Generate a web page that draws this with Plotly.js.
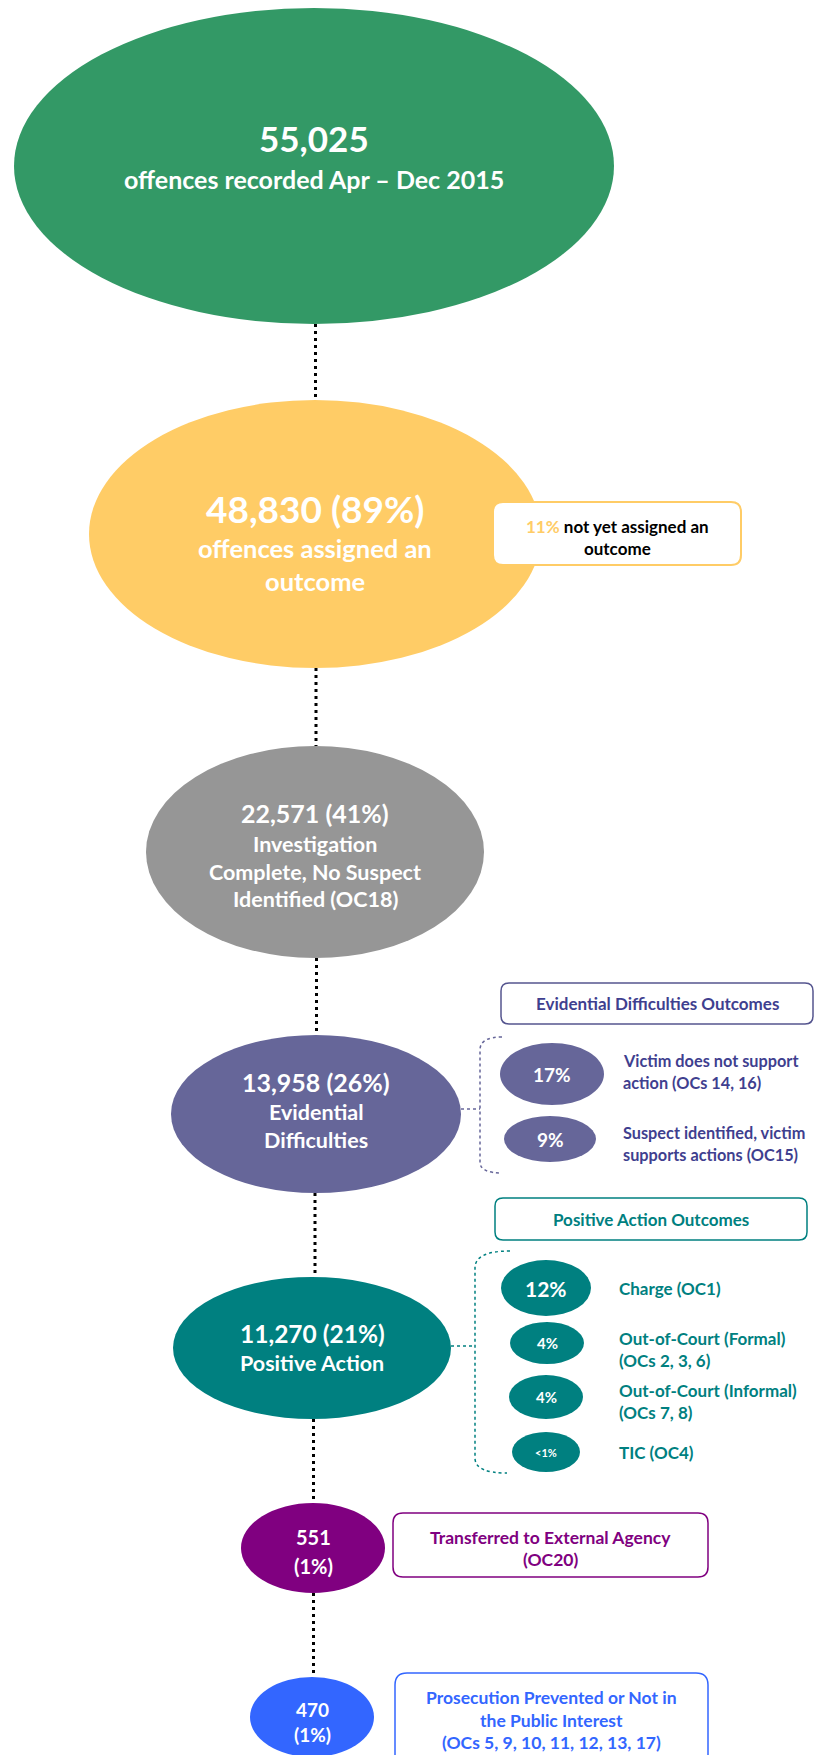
<!DOCTYPE html>
<html>
<head>
<meta charset="utf-8">
<script src="https://cdn.plot.ly/plotly-3.0.1.min.js"></script>
<style>
  html, body { margin: 0; padding: 0; background: #ffffff; }
  #chart { width: 814px; height: 1755px; }
</style>
</head>
<body>
<div id="chart"></div>
<script>
// ---------------- DATA ----------------
const counts = [55025, 48830, 22571, 13958, 11270, 551, 470];
const shares = [null, 89, 41, 26, 21, 1, 1];
const nodeLabels = [
  ['offences recorded Apr – Dec 2015'],
  ['offences assigned an', 'outcome'],
  ['Investigation', 'Complete, No Suspect', 'Identified (OC18)'],
  ['Evidential', 'Difficulties'],
  ['Positive Action'],
  [],
  []
];
const unassignedShare = '11%';
const unassignedText = ['not yet assigned an', 'outcome'];

const edTitle = 'Evidential Difficulties Outcomes';
const edShares = ['17%', '9%'];
const edLabels = [
  ['Victim does not support', 'action (OCs 14, 16)'],
  ['Suspect identified, victim', 'supports actions (OC15)']
];

const paTitle = 'Positive Action Outcomes';
const paShares = ['12%', '4%', '4%', '<1%'];
const paLabels = [
  ['Charge (OC1)'],
  ['Out-of-Court (Formal)', '(OCs 2, 3, 6)'],
  ['Out-of-Court (Informal)', '(OCs 7, 8)'],
  ['TIC (OC4)']
];

const transferredText = ['Transferred to External Agency', '(OC20)'];
const preventedText = ['Prosecution Prevented or Not in', 'the Public Interest', '(OCs 5, 9, 10, 11, 12, 13, 17)'];

// ---------------- LAYOUT / STYLE ----------------
const W = 814, H = 1755;
const FONT = 'Lato, "Open Sans", sans-serif';
const nodeColors = ['#339966', '#FFCC66', '#969696', '#666699', '#008080', '#800080', '#3366FF'];
const nodeCx = [314, 315, 315, 316, 312, 313, 312];
const nodeCy = [166, 534, 852, 1114, 1348, 1548, 1717];
const nodeRx = [300, 226, 169, 145, 139, 72, 62];
const nodeRy = [158, 134, 106, 79, 71, 45, 40];
const splitShare = [false, false, false, false, false, true, true];
const nodeTextY = [
  [138, 179],
  [508, 548, 581],
  [813, 844, 872, 899],
  [1082, 1112, 1140],
  [1333, 1363],
  [1537, 1566],
  [1709, 1734]
];
const nodeTextSize = [
  [35, 25],
  [37, 25.5, 25.5],
  [25, 21.5, 21.5, 21.5],
  [25, 21.5, 21.5],
  [24.5, 21.5],
  [20, 20],
  [19, 19]
];

const edColor = '#666699', edText = '#3F3F8F';
const edCx = [552, 550], edCy = [1074, 1139], edRx = [52, 46], edRy = [31, 23];
const edShareSize = [19, 19];
const edLabelX = 621;
const edLabelY = [[1060, 1082], [1132, 1154]];
const edBox = [501, 983, 813, 1024];

const paColor = '#008080';
const paCx = [546, 547, 546, 546], paCy = [1288, 1343, 1397, 1452], paRx = [45, 37, 37, 34], paRy = [28, 21, 22, 20];
const paShareSize = [21, 15, 15, 11];
const paLabelX = 617;
const paLabelY = [[1288], [1338, 1360], [1390, 1412], [1452]];
const paBox = [495, 1198, 807, 1240];

const calloutBox = [493, 502, 741, 565];
const calloutY = [526, 548];
const transferredBox = [393, 1513, 708, 1577];
const transferredY = [1537, 1559];
const preventedBox = [395, 1673, 708, 1775];
const preventedY = [1697, 1720, 1742];

const edLabelSize = 16.3, paLabelSize = 17, titleSize = 17, calloutSize = 17, boxTextSize = 17.5;

// ---------------- HELPERS ----------------
const fmt = n => n.toLocaleString('en-US');
function roundRect(b, r) {
  const [x0, y0, x1, y1] = b;
  return `M ${x0 + r} ${y0} L ${x1 - r} ${y0} Q ${x1} ${y0} ${x1} ${y0 + r} L ${x1} ${y1 - r} Q ${x1} ${y1} ${x1 - r} ${y1} ` +
         `L ${x0 + r} ${y1} Q ${x0} ${y1} ${x0} ${y1 - r} L ${x0} ${y0 + r} Q ${x0} ${y0} ${x0 + r} ${y0} Z`;
}
function ellipse(cx, cy, rx, ry, color) {
  return { type: 'circle', xref: 'x', yref: 'y', x0: cx - rx, x1: cx + rx, y0: cy - ry, y1: cy + ry,
           fillcolor: color, line: { width: 0 }, layer: 'above' };
}
function text(t, x, y, size, color, anchor) {
  return { text: t, x: x, y: y, xref: 'x', yref: 'y', showarrow: false,
           xanchor: anchor || 'center', yanchor: 'middle',
           font: { family: FONT, size: size, color: color, weight: 700 } };
}

const shapes = [];
const annotations = [];

// connectors between main nodes
for (let i = 0; i < counts.length - 1; i++) {
  const x = (nodeCx[i] + nodeCx[i + 1]) / 2 + 1;
  shapes.push({ type: 'line', xref: 'x', yref: 'y', x0: x, x1: x,
                y0: nodeCy[i] + nodeRy[i], y1: nodeCy[i + 1] - nodeRy[i + 1],
                line: { color: '#000000', width: 3, dash: '3px,4px' }, layer: 'above' });
}

// main nodes
counts.forEach((c, i) => {
  shapes.push(ellipse(nodeCx[i], nodeCy[i], nodeRx[i], nodeRy[i], nodeColors[i]));
  let head;
  if (shares[i] === null) head = [fmt(c)];
  else if (splitShare[i]) head = [fmt(c), '(' + shares[i] + '%)'];
  else head = [fmt(c) + ' (' + shares[i] + '%)'];
  const lines = head.concat(nodeLabels[i]);
  lines.forEach((ln, j) => {
    annotations.push(text(ln, nodeCx[i], nodeTextY[i][j], nodeTextSize[i][j], '#ffffff'));
  });
});

// callout for unassigned
shapes.push({ type: 'path', xref: 'x', yref: 'y', path: roundRect(calloutBox, 10),
              fillcolor: '#ffffff', line: { color: nodeColors[1], width: 2 }, layer: 'above' });
const cbx = (calloutBox[0] + calloutBox[2]) / 2;
annotations.push(text('<span style="color:' + nodeColors[1] + '">' + unassignedShare + '</span> ' + unassignedText[0], cbx, calloutY[0], calloutSize, '#000000'));
annotations.push(text(unassignedText[1], cbx, calloutY[1], calloutSize, '#000000'));

// Evidential difficulties breakdown
shapes.push({ type: 'path', xref: 'x', yref: 'y', path: roundRect(edBox, 8),
              fillcolor: '#ffffff', line: { color: '#55558F', width: 1.5 }, layer: 'above' });
annotations.push(text(edTitle, (edBox[0] + edBox[2]) / 2, (edBox[1] + edBox[3]) / 2, titleSize, edText));
{
  const i = 3, bx = 480;
  const top = edCy[0] - edRy[0] - 6, bot = edCy[1] + edRy[1] + 11;
  shapes.push({ type: 'path', xref: 'x', yref: 'y',
                path: `M ${nodeCx[i] + nodeRx[i]} ${nodeCy[i] - 5} L ${bx} ${nodeCy[i] - 5} M ${bx + 22} ${top} Q ${bx} ${top} ${bx} ${top + 13} L ${bx} ${bot - 11} Q ${bx} ${bot} ${bx + 22} ${bot}`,
                line: { color: edColor, width: 1.5, dash: 'dot' }, layer: 'above' });
}
edShares.forEach((s, k) => {
  shapes.push(ellipse(edCx[k], edCy[k], edRx[k], edRy[k], edColor));
  annotations.push(text(s, edCx[k], edCy[k], edShareSize[k], '#ffffff'));
  edLabels[k].forEach((ln, j) => annotations.push(text(ln, edLabelX, edLabelY[k][j], edLabelSize, edText, 'left')));
});

// Positive action breakdown
shapes.push({ type: 'path', xref: 'x', yref: 'y', path: roundRect(paBox, 8),
              fillcolor: '#ffffff', line: { color: paColor, width: 1.5 }, layer: 'above' });
annotations.push(text(paTitle, (paBox[0] + paBox[2]) / 2, (paBox[1] + paBox[3]) / 2, titleSize, paColor));
{
  const i = 4, bx = 475;
  const top = paCy[0] - paRy[0] - 9, bot = paCy[3] + paRy[3] + 1;
  shapes.push({ type: 'path', xref: 'x', yref: 'y',
                path: `M ${nodeCx[i] + nodeRx[i]} ${nodeCy[i] - 2} L ${bx} ${nodeCy[i] - 2} M ${bx + 35} ${top} Q ${bx} ${top} ${bx} ${top + 17} L ${bx} ${bot - 15} Q ${bx} ${bot} ${bx + 32} ${bot}`,
                line: { color: paColor, width: 1.5, dash: 'dot' }, layer: 'above' });
}
paShares.forEach((s, k) => {
  shapes.push(ellipse(paCx[k], paCy[k], paRx[k], paRy[k], paColor));
  annotations.push(text(s, paCx[k], paCy[k], paShareSize[k], '#ffffff'));
  paLabels[k].forEach((ln, j) => annotations.push(text(ln, paLabelX, paLabelY[k][j], paLabelSize, paColor, 'left')));
});

// Transferred box
shapes.push({ type: 'path', xref: 'x', yref: 'y', path: roundRect(transferredBox, 10),
              fillcolor: '#ffffff', line: { color: nodeColors[5], width: 1.5 }, layer: 'above' });
transferredText.forEach((ln, j) => annotations.push(text(ln, (transferredBox[0] + transferredBox[2]) / 2, transferredY[j], boxTextSize, nodeColors[5])));

// Prevented box
shapes.push({ type: 'path', xref: 'x', yref: 'y', path: roundRect(preventedBox, 12),
              fillcolor: '#ffffff', line: { color: nodeColors[6], width: 1.5 }, layer: 'above' });
preventedText.forEach((ln, j) => annotations.push(text(ln, (preventedBox[0] + preventedBox[2]) / 2, preventedY[j], boxTextSize, nodeColors[6])));

const layout = {
  width: W, height: H,
  margin: { l: 0, r: 0, t: 0, b: 0, pad: 0 },
  paper_bgcolor: '#ffffff', plot_bgcolor: '#ffffff',
  showlegend: false,
  xaxis: { range: [0, W], visible: false, fixedrange: true },
  yaxis: { range: [H, 0], visible: false, fixedrange: true },
  shapes: shapes,
  annotations: annotations
};

Plotly.newPlot('chart', [{ type: 'scatter', x: [], y: [], mode: 'markers', hoverinfo: 'skip' }], layout,
               { staticPlot: true, displayModeBar: false });
</script>
</body>
</html>
